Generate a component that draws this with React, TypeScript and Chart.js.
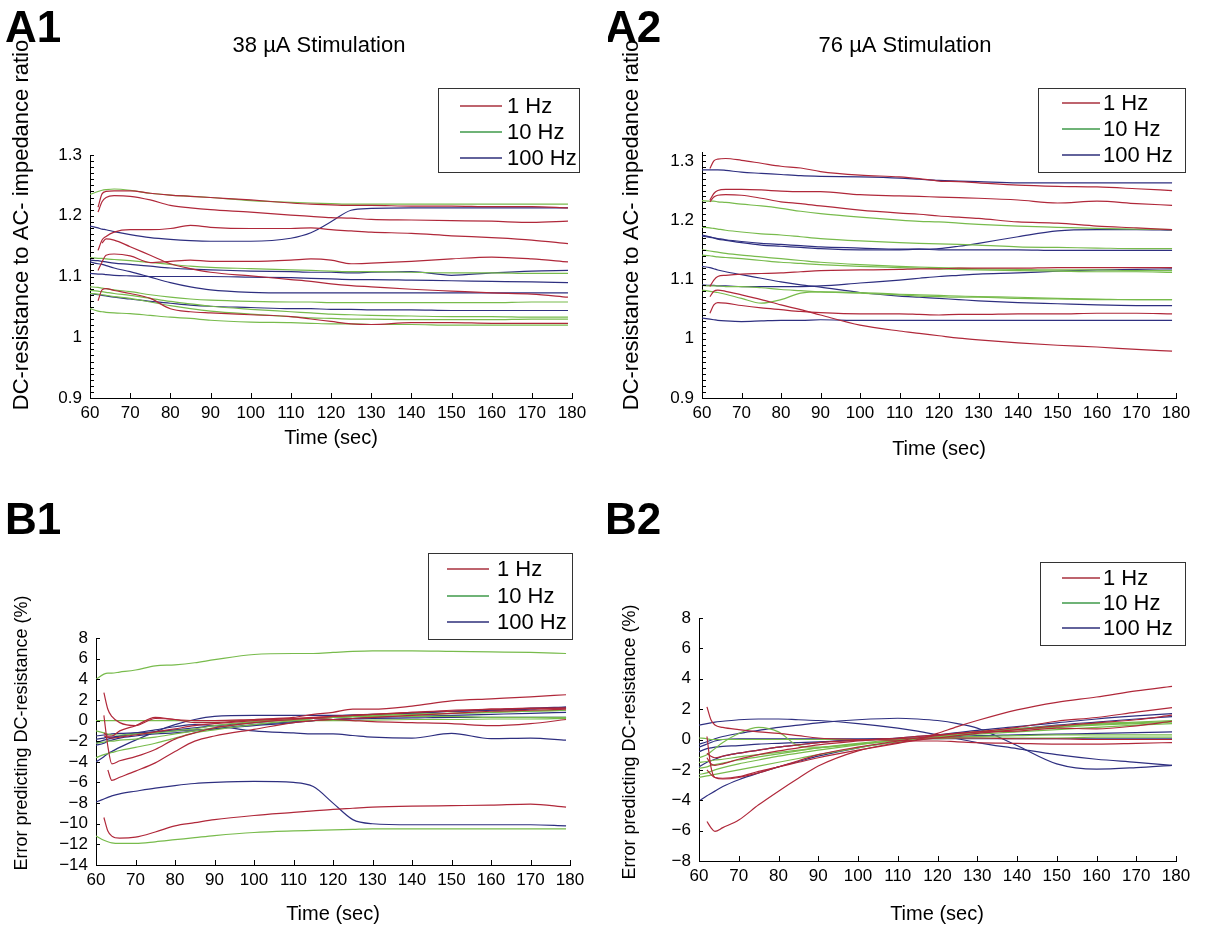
import React, { useEffect, useRef } from "react";
import { Chart, registerables } from "chart.js";

Chart.register(...registerables);

const FONT = '"Liberation Sans", Arial, Helvetica, sans-serif';
const SERIES_COLORS = ["#b0283a", "#78bb4c", "#2e2f80"];
const LEGEND_COLORS = ["#a8303e", "#3f9a4a", "#2e2f7a"];
const LEGEND_LABELS = ["1 Hz", "10 Hz", "100 Hz"];

// sample times (s)
const TIME = [60, 62, 63, 64, 66, 70, 75, 80, 85, 90, 100, 110, 115, 120, 125, 130, 140, 150, 160, 170, 179];
const X_TICKS = [60, 70, 80, 90, 100, 110, 120, 130, 140, 150, 160, 170, 180];
const A_Y_MAJOR = [0.9, 1, 1.1, 1.2, 1.3];
const B1_Y_TICKS = [-14, -12, -10, -8, -6, -4, -2, 0, 2, 4, 6, 8];
const B2_Y_TICKS = [-8, -6, -4, -2, 0, 2, 4, 6, 8];

// ---------- A1 : 38 uA, DC/AC ratio ----------
const A1_1HZ = [
  [null, 1.214, 1.236, 1.24, 1.241, 1.241, 1.237, 1.234, 1.232, 1.23, 1.226, 1.221, 1.219, 1.218, 1.217, 1.217, 1.216, 1.216, 1.215, 1.215, 1.213],
  [null, 1.206, 1.223, 1.23, 1.233, 1.232, 1.226, 1.217, 1.213, 1.21, 1.206, 1.201, 1.199, 1.197, 1.196, 1.194, 1.193, 1.192, 1.191, 1.189, 1.191],
  [null, 1.143, 1.16, 1.166, 1.173, 1.177, 1.177, 1.179, 1.184, 1.181, 1.179, 1.179, 1.18, 1.177, 1.175, 1.173, 1.171, 1.167, 1.164, 1.16, 1.154],
  [null, 1.11, 1.124, 1.135, 1.137, 1.134, 1.123, 1.125, 1.127, 1.125, 1.125, 1.127, 1.129, 1.127, 1.121, 1.122, 1.125, 1.129, 1.132, 1.129, 1.124],
  [null, null, 1.155, 1.162, 1.16, 1.149, 1.135, 1.121, 1.113, 1.107, 1.101, 1.095, 1.092, 1.088, 1.085, 1.083, 1.079, 1.076, 1.073, 1.071, 1.066],
  [null, 1.06, 1.078, 1.08, 1.077, 1.072, 1.064, 1.047, 1.042, 1.04, 1.037, 1.034, 1.03, 1.026, 1.022, 1.021, 1.024, 1.024, 1.023, 1.023, 1.023],
];
const A1_10HZ = [
  [1.235, 1.24, 1.242, 1.243, 1.244, 1.242, 1.237, 1.234, 1.232, 1.23, 1.225, 1.222, 1.221, 1.22, 1.219, 1.219, 1.219, 1.219, 1.219, 1.219, 1.219],
  [1.131, 1.13, 1.13, 1.129, 1.128, 1.126, 1.123, 1.12, 1.117, 1.115, 1.113, 1.111, 1.11, 1.109, 1.108, 1.108, 1.107, 1.106, 1.106, 1.105, 1.105],
  [1.083, 1.082, 1.081, 1.08, 1.078, 1.075, 1.07, 1.066, 1.063, 1.061, 1.059, 1.058, 1.058, 1.057, 1.057, 1.057, 1.057, 1.057, 1.057, 1.058, 1.058],
  [1.077, 1.076, 1.075, 1.074, 1.072, 1.069, 1.064, 1.059, 1.055, 1.051, 1.046, 1.042, 1.04, 1.038, 1.037, 1.036, 1.035, 1.034, 1.034, 1.033, 1.033],
  [1.047, 1.043, 1.042, 1.041, 1.04, 1.039, 1.036, 1.033, 1.031, 1.028, 1.025, 1.024, 1.023, 1.022, 1.022, 1.021, 1.021, 1.02, 1.02, 1.02, 1.02],
  [1.072, 1.071, 1.07, 1.069, 1.067, 1.064, 1.058, 1.052, 1.047, 1.043, 1.038, 1.034, 1.032, 1.031, 1.03, 1.03, 1.029, 1.029, 1.029, 1.03, 1.03],
];
const A1_100HZ = [
  [1.183, 1.18, 1.178, 1.177, 1.174, 1.169, 1.164, 1.161, 1.159, 1.158, 1.158, 1.163, 1.172, 1.19, 1.209, 1.212, 1.213, 1.213, 1.213, 1.213, 1.213],
  [1.127, 1.126, 1.125, 1.124, 1.122, 1.12, 1.117, 1.114, 1.112, 1.111, 1.109, 1.108, 1.107, 1.107, 1.106, 1.107, 1.108, 1.102, 1.106, 1.109, 1.11],
  [1.124, 1.121, 1.12, 1.118, 1.114, 1.108, 1.099, 1.09, 1.083, 1.078, 1.074, 1.073, 1.073, 1.073, 1.073, 1.073, 1.073, 1.073, 1.073, 1.073, 1.073],
  [1.105, 1.104, 1.104, 1.103, 1.102, 1.101, 1.1, 1.1, 1.1, 1.1, 1.099, 1.098, 1.097, 1.096, 1.095, 1.095, 1.094, 1.093, 1.092, 1.091, 1.09],
  [1.072, 1.07, 1.069, 1.068, 1.066, 1.063, 1.059, 1.056, 1.053, 1.051, 1.049, 1.047, 1.047, 1.046, 1.046, 1.045, 1.045, 1.044, 1.044, 1.044, 1.044],
];

// ---------- A2 : 76 uA, DC/AC ratio ----------
const A2_1HZ = [
  [null, 1.287, 1.3, 1.303, 1.304, 1.301, 1.296, 1.291, 1.288, 1.282, 1.276, 1.273, 1.27, 1.266, 1.265, 1.263, 1.259, 1.257, 1.256, 1.253, 1.25],
  [null, 1.234, 1.245, 1.25, 1.252, 1.252, 1.251, 1.249, 1.248, 1.248, 1.243, 1.241, 1.24, 1.239, 1.238, 1.237, 1.234, 1.229, 1.232, 1.228, 1.225],
  [null, 1.231, 1.239, 1.242, 1.243, 1.242, 1.237, 1.231, 1.228, 1.224, 1.217, 1.212, 1.21, 1.207, 1.205, 1.203, 1.197, 1.195, 1.19, 1.187, 1.184],
  [null, 1.088, 1.099, 1.105, 1.107, 1.109, 1.11, 1.111, 1.113, 1.115, 1.116, 1.117, 1.118, 1.118, 1.119, 1.119, 1.119, 1.12, 1.12, 1.12, 1.12],
  [null, 1.071, 1.08, 1.082, 1.08, 1.074, 1.066, 1.057, 1.049, 1.04, 1.023, 1.013, 1.009, 1.005, 1.001, 0.998, 0.993, 0.989, 0.986, 0.982, 0.979],
  [null, 1.043, 1.057, 1.061, 1.06, 1.056, 1.052, 1.049, 1.046, 1.044, 1.042, 1.042, 1.041, 1.04, 1.041, 1.041, 1.042, 1.042, 1.043, 1.043, 1.042],
];
const A2_10HZ = [
  [1.233, 1.232, 1.232, 1.231, 1.23, 1.227, 1.224, 1.22, 1.215, 1.211, 1.205, 1.2, 1.198, 1.197, 1.195, 1.193, 1.19, 1.188, 1.186, 1.185, 1.184],
  [1.188, 1.187, 1.186, 1.185, 1.183, 1.18, 1.177, 1.175, 1.172, 1.169, 1.165, 1.162, 1.161, 1.16, 1.159, 1.158, 1.155, 1.154, 1.153, 1.152, 1.152],
  [1.15, 1.148, 1.147, 1.146, 1.144, 1.141, 1.138, 1.135, 1.132, 1.129, 1.125, 1.122, 1.121, 1.12, 1.119, 1.118, 1.117, 1.116, 1.116, 1.115, 1.115],
  [1.141, 1.14, 1.139, 1.138, 1.137, 1.135, 1.132, 1.129, 1.127, 1.125, 1.122, 1.12, 1.119, 1.118, 1.117, 1.116, 1.115, 1.114, 1.113, 1.113, 1.112],
  [1.09, 1.089, 1.089, 1.089, 1.088, 1.088, 1.086, 1.083, 1.081, 1.079, 1.077, 1.074, 1.072, 1.071, 1.07, 1.07, 1.068, 1.067, 1.066, 1.066, 1.066],
  [1.082, 1.08, 1.079, 1.078, 1.075, 1.068, 1.06, 1.066, 1.077, 1.079, 1.078, 1.075, 1.074, 1.073, 1.072, 1.071, 1.07, 1.068, 1.067, 1.066, 1.066],
];
const A2_100HZ = [
  [1.285, 1.285, 1.285, 1.285, 1.284, 1.281, 1.279, 1.277, 1.275, 1.274, 1.273, 1.271, 1.269, 1.267, 1.266, 1.265, 1.263, 1.263, 1.263, 1.263, 1.263],
  [1.175, 1.172, 1.17, 1.168, 1.166, 1.162, 1.158, 1.156, 1.154, 1.152, 1.15, 1.15, 1.151, 1.152, 1.156, 1.161, 1.172, 1.182, 1.184, 1.184, 1.183],
  [1.173, 1.171, 1.17, 1.169, 1.167, 1.164, 1.161, 1.159, 1.157, 1.155, 1.153, 1.151, 1.151, 1.15, 1.15, 1.15, 1.15, 1.149, 1.149, 1.149, 1.149],
  [1.122, 1.12, 1.118, 1.116, 1.113, 1.108, 1.102, 1.096, 1.091, 1.087, 1.078, 1.072, 1.07, 1.068, 1.066, 1.064, 1.061, 1.059, 1.057, 1.056, 1.056],
  [1.091, 1.09, 1.09, 1.089, 1.089, 1.088, 1.088, 1.088, 1.088, 1.089, 1.094, 1.099, 1.102, 1.105, 1.107, 1.109, 1.111, 1.114, 1.116, 1.117, 1.118],
  [1.035, 1.033, 1.032, 1.031, 1.03, 1.029, 1.03, 1.031, 1.031, 1.032, 1.031, 1.031, 1.031, 1.031, 1.031, 1.031, 1.031, 1.031, 1.031, 1.031, 1.031],
];

// ---------- B1 : 38 uA, prediction error (%) ----------
const B1_1HZ = [
  [null, 2.7, 1.1, 0.4, -0.2, -0.5, 0.2, 0.1, -0.2, -0.2, 0.1, 0.3, 0.6, 0.8, 1.1, 1.1, 1.4, 1.9, 2.1, 2.3, 2.5],
  [null, 0.5, -2.5, -4.2, -3.9, -3.5, -2.8, -1.8, -1.2, -0.7, -0.2, 0.1, 0.25, 0.4, 0.5, 0.6, 0.8, 0.9, 1.1, 1.15, 1.2],
  [null, null, -4.8, -5.8, -5.5, -4.9, -4.1, -3.0, -2.0, -1.5, -0.85, -0.2, 0, 0.1, 0.2, 0.3, 0.5, 0.7, 0.9, 1.0, 1.1],
  [null, -1.2, -1.5, -1.5, -1.0, -0.5, 0.3, 0.1, 0.0, 0.0, 0.1, 0.2, 0.2, 0.1, 0.0, -0.1, -0.2, -0.3, -0.5, -0.3, 0.1],
  [null, -9.4, -10.7, -11.2, -11.4, -11.3, -10.8, -10.2, -9.9, -9.6, -9.2, -8.9, -8.75, -8.6, -8.5, -8.4, -8.3, -8.25, -8.2, -8.1, -8.4],
  [null, -1.5, -1.6, -1.7, -1.6, -1.4, -1.1, -0.8, -0.5, -0.3, 0.0, 0.2, 0.3, 0.4, 0.5, 0.6, 0.8, 1.0, 1.1, 1.2, 1.2],
];
const B1_10HZ = [
  [4.0, 4.5, 4.6, 4.6, 4.7, 4.9, 5.3, 5.4, 5.6, 5.9, 6.4, 6.5, 6.5, 6.6, 6.7, 6.75, 6.75, 6.7, 6.65, 6.6, 6.5],
  [0, 0, 0, 0, 0, 0, 0, 0, 0, 0, 0, 0, 0, 0, 0, 0.05, 0.1, 0.1, 0.15, 0.15, 0.2],
  [-11.2, -11.6, -11.75, -11.85, -11.9, -11.9, -11.75, -11.55, -11.35, -11.15, -10.85, -10.7, -10.65, -10.6, -10.55, -10.5, -10.5, -10.5, -10.5, -10.5, -10.5],
  [-3.6, -3.3, -3.2, -3.1, -2.9, -2.6, -2.2, -1.7, -1.2, -0.9, -0.4, 0.0, 0.2, 0.3, 0.4, 0.5, 0.6, 0.7, 0.8, 0.9, 1.0],
  [-2.2, -2.1, -2.0, -2.0, -1.9, -1.8, -1.6, -1.3, -1.0, -0.7, -0.2, 0.1, 0.2, 0.3, 0.4, 0.5, 0.6, 0.7, 0.8, 0.9, 1.0],
  [-1.0, -1.2, -1.3, -1.4, -1.4, -1.3, -1.2, -1.0, -0.8, -0.5, -0.1, 0.1, 0.2, 0.3, 0.35, 0.4, 0.4, 0.4, 0.3, 0.3, 0.3],
];
const B1_100HZ = [
  [-7.9, -7.6, -7.45, -7.3, -7.1, -6.85, -6.55, -6.3, -6.1, -6.0, -5.9, -6.0, -6.4, -8.0, -9.6, -10.0, -10.1, -10.1, -10.1, -10.1, -10.2],
  [-2.2, -1.9, -1.8, -1.7, -1.5, -1.2, -0.9, -0.6, -0.4, -0.5, -1.0, -1.2, -1.3, -1.3, -1.45, -1.6, -1.7, -1.25, -1.75, -1.7, -1.9],
  [-4.0, -3.5, -3.2, -3.0, -2.6, -1.9, -1.1, -0.4, 0.1, 0.4, 0.5, 0.5, 0.5, 0.5, 0.55, 0.6, 0.7, 0.9, 1.0, 1.1, 1.3],
  [-1.8, -1.7, -1.6, -1.6, -1.5, -1.3, -1.1, -0.9, -0.7, -0.5, -0.2, 0.1, 0.2, 0.3, 0.4, 0.5, 0.7, 0.9, 1.0, 1.2, 1.3],
  [-2.4, -2.2, -2.0, -1.9, -1.7, -1.5, -1.3, -1.2, -1.0, -0.8, -0.4, -0.1, 0.0, 0.1, 0.2, 0.3, 0.4, 0.5, 0.6, 0.7, 0.8],
  [-1.5, -1.4, -1.35, -1.3, -1.25, -1.2, -1.1, -1.0, -0.9, -0.8, -0.5, -0.2, 0.0, 0.1, 0.15, 0.2, 0.25, 0.3, 0.3, 0.3, 0.3],
];

// ---------- B2 : 76 uA, prediction error (%) ----------
const B2_1HZ = [
  [null, -5.4, -5.8, -6.05, -5.8, -5.3, -4.3, -3.4, -2.55, -1.75, -0.75, -0.2, 0.0, 0.4, 0.85, 1.25, 1.95, 2.45, 2.8, 3.2, 3.5],
  [null, 2.15, 1.3, 0.95, 0.8, 0.65, 0.5, 0.4, 0.25, 0.1, 0.0, -0.05, -0.1, -0.1, -0.15, -0.2, -0.25, -0.3, -0.3, -0.25, -0.2],
  [null, 0.2, -1.8, -2.5, -2.6, -2.5, -2.2, -1.8, -1.4, -1.0, -0.5, -0.1, 0.1, 0.25, 0.4, 0.5, 0.8, 1.2, 1.45, 1.8, 2.1],
  [null, -1.2, -1.6, -1.7, -1.6, -1.3, -1.0, -0.75, -0.55, -0.35, -0.1, 0.1, 0.2, 0.3, 0.4, 0.5, 0.55, 0.75, 0.7, 0.9, 1.2],
  [null, -2.0, -2.3, -2.5, -2.55, -2.45, -2.1, -1.8, -1.5, -1.2, -0.7, -0.25, -0.05, 0.1, 0.25, 0.4, 0.65, 0.9, 1.1, 1.3, 1.6],
  [null, -0.9, -1.1, -1.2, -1.1, -0.9, -0.7, -0.5, -0.35, -0.2, -0.05, 0.05, 0.1, 0.1, 0.1, 0.1, 0.05, 0.05, 0.0, 0.0, 0.0],
];
const B2_10HZ = [
  [-1.2, -1.0, -0.8, -0.6, -0.2, 0.4, 0.8, 0.5, -0.4, -0.5, -0.3, -0.1, 0.0, 0.2, 0.35, 0.5, 0.7, 0.85, 1.0, 1.1, 1.2],
  [-2.5, -2.4, -2.35, -2.3, -2.2, -2.0, -1.75, -1.5, -1.25, -1.0, -0.55, -0.15, 0.0, 0.15, 0.3, 0.45, 0.65, 0.8, 0.95, 1.05, 1.15],
  [-2.3, -2.2, -2.1, -2.0, -1.85, -1.6, -1.35, -1.1, -0.9, -0.7, -0.35, -0.05, 0.05, 0.15, 0.25, 0.35, 0.5, 0.65, 0.8, 0.95, 1.05],
  [-1.5, -1.45, -1.4, -1.35, -1.3, -1.15, -1.0, -0.85, -0.7, -0.55, -0.3, -0.05, 0.05, 0.1, 0.15, 0.2, 0.25, 0.3, 0.3, 0.3, 0.3],
  [0.1, 0.05, 0.0, 0.0, 0.0, 0.0, 0.0, 0.0, 0.0, 0.0, 0.0, 0.0, 0.05, 0.05, 0.1, 0.1, 0.1, 0.1, 0.15, 0.15, 0.15],
  [-1.9, -1.8, -1.7, -1.65, -1.55, -1.35, -1.15, -0.95, -0.75, -0.55, -0.25, 0.0, 0.1, 0.2, 0.35, 0.5, 0.7, 0.9, 1.05, 1.15, 1.25],
];
const B2_100HZ = [
  [0.95, 1.05, 1.1, 1.15, 1.2, 1.3, 1.35, 1.35, 1.3, 1.25, 1.05, 0.75, 0.55, 0.3, 0.05, -0.2, -0.6, -1.0, -1.3, -1.5, -1.7],
  [-0.3, -0.15, -0.05, 0.05, 0.2, 0.4, 0.6, 0.8, 0.95, 1.1, 1.3, 1.4, 1.35, 1.25, 1.05, 0.75, -0.4, -1.6, -1.95, -1.85, -1.7],
  [-4.05, -3.7, -3.55, -3.4, -3.1, -2.65, -2.2, -1.8, -1.45, -1.1, -0.55, -0.15, 0.0, 0.15, 0.3, 0.45, 0.7, 0.95, 1.15, 1.35, 1.5],
  [-1.8, -1.5, -1.4, -1.3, -1.1, -0.9, -0.7, -0.5, -0.35, -0.2, 0.0, 0.1, 0.2, 0.3, 0.45, 0.6, 0.85, 1.1, 1.35, 1.55, 1.7],
  [-0.8, -0.6, -0.55, -0.5, -0.45, -0.4, -0.3, -0.25, -0.2, -0.15, -0.05, 0.05, 0.1, 0.15, 0.2, 0.25, 0.3, 0.35, 0.4, 0.45, 0.5],
  [-0.5, -0.3, -0.2, -0.1, 0.0, 0.05, 0.05, 0.05, 0.05, 0.05, 0.05, 0.05, 0.05, 0.05, 0.05, 0.05, 0.05, 0.05, 0.05, 0.05, 0.05],
];

const A1_Y_TICKS = Array.from({ length: 41 }, (_, k) => Math.round((0.9 + k * 0.01) * 100) / 100);
const A2_Y_TICKS = Array.from({ length: 42 }, (_, k) => Math.round((0.9 + k * 0.01) * 100) / 100);

type Txt = { text: string; x: number; y: number; size?: number };
type Panel = {
  id: string;
  x: number; y: number; w: number; h: number;
  area: { l: number; r: number; t: number; b: number };
  yMin: number; yMax: number;
  yTicks: number[]; yMajor: number[];
  groups: (number | null)[][][];
  label: Txt; title?: Txt; xTitle: Txt; yTitle: Txt;
  legend: { box: number[]; rows: number[]; line: number[]; tx: number };
};

const PANELS: Panel[] = [
  {
    id: "A1", x: 0, y: 0, w: 608, h: 465,
    area: { l: 90, r: 572, t: 155, b: 398 },
    yMin: 0.9, yMax: 1.3, yTicks: A1_Y_TICKS, yMajor: A_Y_MAJOR,
    groups: [A1_1HZ, A1_10HZ, A1_100HZ],
    label: { text: "A1", x: 5, y: 42 },
    title: { text: "38 µA Stimulation", x: 319, y: 52 },
    xTitle: { text: "Time (sec)", x: 331, y: 444 },
    yTitle: { text: "DC-resistance to AC- impedance ratio", x: 22, y: 225, size: 22 },
    legend: { box: [438, 88, 579, 172], rows: [106, 132, 158], line: [460, 502], tx: 507 },
  },
  {
    id: "A2", x: 608, y: 0, w: 609, h: 465,
    area: { l: 702, r: 1176, t: 152, b: 398 },
    yMin: 0.9, yMax: 1.315, yTicks: A2_Y_TICKS, yMajor: A_Y_MAJOR,
    groups: [A2_1HZ, A2_10HZ, A2_100HZ],
    label: { text: "A2", x: 605, y: 42 },
    title: { text: "76 µA Stimulation", x: 905, y: 52 },
    xTitle: { text: "Time (sec)", x: 939, y: 455 },
    yTitle: { text: "DC-resistance to AC- impedance ratio", x: 632, y: 225, size: 22 },
    legend: { box: [1038, 88, 1185, 172], rows: [103, 129, 155], line: [1062, 1100], tx: 1103 },
  },
  {
    id: "B1", x: 0, y: 465, w: 608, h: 465,
    area: { l: 96, r: 570, t: 638, b: 865 },
    yMin: -14, yMax: 8, yTicks: B1_Y_TICKS, yMajor: B1_Y_TICKS,
    groups: [B1_1HZ, B1_10HZ, B1_100HZ],
    label: { text: "B1", x: 5, y: 534 },
    xTitle: { text: "Time (sec)", x: 333, y: 920 },
    yTitle: { text: "Error predicting DC-resistance (%)", x: 22, y: 733, size: 18 },
    legend: { box: [428, 553, 572, 639], rows: [569, 596, 622], line: [447, 489], tx: 497 },
  },
  {
    id: "B2", x: 608, y: 465, w: 609, h: 465,
    area: { l: 699, r: 1176, t: 618, b: 861 },
    yMin: -8, yMax: 8, yTicks: B2_Y_TICKS, yMajor: B2_Y_TICKS,
    groups: [B2_1HZ, B2_10HZ, B2_100HZ],
    label: { text: "B2", x: 605, y: 534 },
    xTitle: { text: "Time (sec)", x: 937, y: 920 },
    yTitle: { text: "Error predicting DC-resistance (%)", x: 630, y: 742, size: 18 },
    legend: { box: [1040, 562, 1185, 645], rows: [578, 603, 628], line: [1062, 1100], tx: 1103 },
  },
];

function fmt(v: number): string {
  const r = Math.round(v * 1000) / 1000;
  if (r < 0) return "\u2212" + String(Math.abs(r));
  return String(r);
}

function makeDecor(p: Panel) {
  return {
    id: "decor" + p.id,
    afterDraw(chart: any) {
      const ctx = chart.ctx as CanvasRenderingContext2D;
      const a = chart.chartArea;
      const xs = chart.scales.x;
      const ys = chart.scales.y;
      const ox = p.x;
      const oy = p.y;
      ctx.save();
      // inward tick marks
      ctx.strokeStyle = "#000";
      ctx.lineWidth = 1;
      ctx.beginPath();
      for (const t of xs.ticks) {
        const px = Math.round(xs.getPixelForValue(t.value)) + 0.5;
        ctx.moveTo(px, a.bottom);
        ctx.lineTo(px, a.bottom - 5);
      }
      for (const t of ys.ticks) {
        const py = Math.round(ys.getPixelForValue(t.value)) + 0.5;
        ctx.moveTo(a.left, py);
        ctx.lineTo(a.left + 4, py);
      }
      ctx.stroke();

      ctx.fillStyle = "#000";
      ctx.font = `bold 44px ${FONT}`;
      ctx.textAlign = "left";
      ctx.textBaseline = "alphabetic";
      ctx.fillText(p.label.text, p.label.x - ox, p.label.y - oy);
      if (p.title) {
        ctx.font = `22px ${FONT}`;
        ctx.textAlign = "center";
        ctx.fillText(p.title.text, p.title.x - ox, p.title.y - oy);
      }
      ctx.font = `20px ${FONT}`;
      ctx.textAlign = "center";
      ctx.fillText(p.xTitle.text, p.xTitle.x - ox, p.xTitle.y - oy);
      ctx.save();
      ctx.translate(p.yTitle.x - ox, p.yTitle.y - oy);
      ctx.rotate(-Math.PI / 2);
      ctx.font = `${p.yTitle.size || 20}px ${FONT}`;
      ctx.textAlign = "center";
      ctx.textBaseline = "middle";
      ctx.fillText(p.yTitle.text, 0, 0);
      ctx.restore();

      // legend
      const L = p.legend;
      const bx = Math.round(L.box[0] - ox) + 0.5;
      const by = Math.round(L.box[1] - oy) + 0.5;
      const bw = L.box[2] - L.box[0];
      const bh = L.box[3] - L.box[1];
      ctx.fillStyle = "#fff";
      ctx.fillRect(bx, by, bw, bh);
      ctx.strokeStyle = "#333";
      ctx.lineWidth = 1;
      ctx.strokeRect(bx, by, bw, bh);
      LEGEND_LABELS.forEach((lab, i) => {
        const ry = L.rows[i] - oy;
        ctx.strokeStyle = LEGEND_COLORS[i];
        ctx.lineWidth = 1.5;
        ctx.beginPath();
        ctx.moveTo(L.line[0] - ox, ry);
        ctx.lineTo(L.line[1] - ox, ry);
        ctx.stroke();
        ctx.fillStyle = "#000";
        ctx.font = `22px ${FONT}`;
        ctx.textAlign = "left";
        ctx.textBaseline = "middle";
        ctx.fillText(lab, L.tx - ox, ry + 1);
      });
      ctx.restore();
    },
  };
}

function buildConfig(p: Panel): any {
  const datasets: any[] = [];
  p.groups.forEach((group, gi) => {
    group.forEach((vals) => {
      const pts: { x: number; y: number }[] = [];
      vals.forEach((v, i) => {
        if (v !== null && v !== undefined) pts.push({ x: TIME[i], y: v });
      });
      datasets.push({
        data: pts,
        borderColor: SERIES_COLORS[gi],
        borderWidth: 1.2,
        pointRadius: 0,
        fill: false,
        cubicInterpolationMode: "monotone",
      });
    });
  });
  const tickFont = { family: FONT, size: 17 };
  const leftW = p.area.l - p.x;
  const bottomH = p.y + p.h - p.area.b;
  return {
    type: "line",
    data: { datasets },
    options: {
      animation: false,
      responsive: false,
      maintainAspectRatio: false,
      devicePixelRatio: 1,
      events: [],
      layout: {
        padding: {
          left: 0,
          top: p.area.t - p.y,
          right: p.x + p.w - p.area.r,
          bottom: 0,
        },
      },
      plugins: {
        legend: { display: false },
        tooltip: { enabled: false },
        title: { display: false },
      },
      scales: {
        x: {
          type: "linear",
          min: 60,
          max: 180,
          afterBuildTicks: (s: any) => {
            s.ticks = X_TICKS.map((v) => ({ value: v }));
          },
          afterFit: (s: any) => {
            s.height = bottomH;
          },
          ticks: {
            autoSkip: false,
            maxRotation: 0,
            minRotation: 0,
            font: tickFont,
            color: "#000",
            padding: 5,
            callback: (v: number) => fmt(v),
          },
          grid: { display: true, drawOnChartArea: false, drawTicks: false },
          border: { display: true, color: "#000", width: 1 },
        },
        y: {
          type: "linear",
          min: p.yMin,
          max: p.yMax,
          afterBuildTicks: (s: any) => {
            s.ticks = p.yTicks.map((v) => ({ value: v }));
          },
          afterFit: (s: any) => {
            s.width = leftW;
          },
          ticks: {
            autoSkip: false,
            font: tickFont,
            color: "#000",
            padding: 8,
            callback: (v: number) =>
              p.yMajor.some((m) => Math.abs(m - v) < 1e-6) ? fmt(v) : "",
          },
          grid: { display: true, drawOnChartArea: false, drawTicks: false },
          border: { display: true, color: "#000", width: 1 },
        },
      },
    },
    plugins: [makeDecor(p)],
  };
}

function PanelChart({ p }: { p: Panel }) {
  const ref = useRef<HTMLCanvasElement | null>(null);
  useEffect(() => {
    if (!ref.current) return;
    const chart = new Chart(ref.current, buildConfig(p));
    return () => chart.destroy();
  }, [p]);
  return (
    <canvas
      ref={ref}
      width={p.w}
      height={p.h}
      style={{ position: "absolute", left: p.x, top: p.y, width: p.w, height: p.h }}
    />
  );
}

export default function App() {
  return (
    <div
      style={{
        position: "absolute",
        left: 0,
        top: 0,
        width: 1217,
        height: 930,
        background: "#fff",
        overflow: "hidden",
      }}
    >
      {PANELS.map((p) => (
        <PanelChart key={p.id} p={p} />
      ))}
    </div>
  );
}
